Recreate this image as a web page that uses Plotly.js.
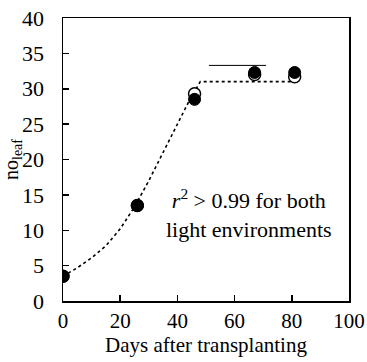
<!DOCTYPE html>
<html><head><meta charset="utf-8">
<script src="https://cdn.plot.ly/plotly-3.0.1.min.js"></script>
<style>html,body{margin:0;padding:0;background:#fff}</style>
</head><body>
<div id="chart" style="width:367px;height:362px"></div>
<script>
const days = [0, 26, 46, 67, 81];
const leafFilled = [3.5, 13.5, 28.5, 32.3, 32.3];
const leafOpen = [3.5, 13.5, 29.3, 32.0, 31.7];
const fitX = [0, 5, 10, 15, 20, 25, 30, 35, 40, 44, 47, 48, 82];
const fitY = [3.5, 4.7, 6.1, 7.8, 10.2, 13.3, 17.0, 21.0, 25.0, 28.2, 30.3, 31.0, 31.0];
const refX = [51, 71];
const refY = [33.3, 33.3];
const xTicks = [0, 20, 40, 60, 80, 100];
const yTicks = [0, 5, 10, 15, 20, 25, 30, 35, 40];

const font = "Liberation Serif, Times New Roman, serif";
const traces = [
  {x: fitX, y: fitY, mode: 'lines', line: {color: '#000', width: 1.6, dash: 'dot', shape: 'linear'}, hoverinfo: 'skip'},
  {x: refX, y: refY, xaxis: 'x', yaxis: 'y2', mode: 'lines', line: {color: '#000', width: 1}, hoverinfo: 'skip'},
  {x: days, y: leafOpen, mode: 'markers', marker: {size: 12, color: '#fff', line: {color: '#000', width: 1.5}}},
  {x: days, y: leafFilled, mode: 'markers', marker: {size: 12, color: '#000', line: {color: '#000', width: 1}}}
];
const layout = {
  width: 367, height: 362,
  margin: {l: 63, r: 18, t: 18, b: 61},
  showlegend: false,
  paper_bgcolor: '#fff', plot_bgcolor: '#fff',
  font: {family: font, color: '#000', size: 20},
  xaxis: {
    range: [0, 100], tickvals: xTicks, ticktext: xTicks.map(String),
    ticks: 'inside', ticklen: 6, tickcolor: '#000', tickwidth: 1.5,
    showline: true, linecolor: '#000', linewidth: 1.5, mirror: true,
    showgrid: false, zeroline: false,
    tickfont: {family: font, size: 21},
    title: {text: 'Days after transplanting', font: {family: font, size: 21}, standoff: 0}
  },
  yaxis: {
    range: [0, 40], tickvals: yTicks, ticktext: yTicks.map(String),
    ticks: 'outside', ticklen: 13, tickcolor: 'rgba(0,0,0,0)', tickwidth: 1,
    showline: true, linecolor: '#000', linewidth: 1.5, mirror: true,
    showgrid: false, zeroline: false,
    tickfont: {family: font, size: 22},
    title: {text: 'no<sub>leaf</sub>', font: {family: font, size: 20}, standoff: 0}
  },
  yaxis2: {
    overlaying: 'y', side: 'left', range: [0, 40], tickvals: yTicks,
    ticks: 'inside', ticklen: 6, tickcolor: '#000', tickwidth: 1.5,
    showticklabels: false, showline: false, showgrid: false, zeroline: false
  },
  annotations: [{
    x: 65, y: 12.4, xref: 'x', yref: 'y', showarrow: false,
    text: '<i>r</i><sup>2</sup> > 0.99 for both<br>light environments',
    font: {family: font, size: 22, color: '#000'}, align: 'center'
  }]
};
Plotly.newPlot('chart', traces, layout, {displayModeBar: false, staticPlot: true});
</script>
</body></html>
